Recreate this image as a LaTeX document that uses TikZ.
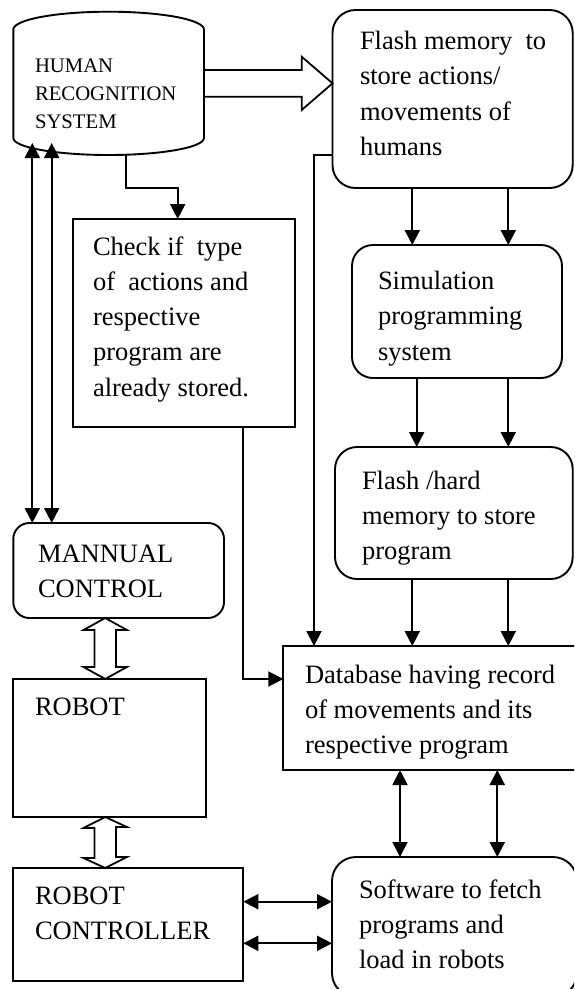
\documentclass[tikz,border=0pt]{standalone}
\usepackage{fontspec}
\setmainfont{Liberation Serif}
\usetikzlibrary{arrows.meta}
\begin{document}
\begin{tikzpicture}[x=1pt,y=-1pt, line width=1.9pt,
  box/.style={draw, inner sep=0pt, outer sep=0pt, anchor=north west},
  rbox/.style={box, rounded corners=#1},
  txt/.style={anchor=north west, inner sep=0pt, outer sep=0pt, align=left, font=\fontsize{26.5}{35.3}\selectfont},
  stxt/.style={txt, font=\fontsize{20.7}{28.3}\selectfont},
  arr/.style={-{Triangle[length=15pt,width=15pt]}},
  darr/.style={{Triangle[length=15pt,width=15pt]}-{Triangle[length=15pt,width=15pt]}},
  hollow/.style={draw, line width=1.8pt, line join=miter}]
\useasboundingbox (0,0) rectangle (574,989);
\clip (0,0) rectangle (574,989);

% ---------- boxes ----------
\node[rbox=23pt, minimum width=240.2pt, minimum height=178pt] (flash) at (332.5,10) {};
\node[rbox=21pt, minimum width=210pt, minimum height=133pt] (sim) at (352,245) {};
\node[rbox=22pt, minimum width=237.7pt, minimum height=132pt] (fhard) at (335,447) {};
\node[box, minimum width=300pt, minimum height=124pt] (db) at (283.3,646) {};
\node[rbox=24pt, minimum width=245pt, minimum height=140pt] (soft) at (332,857) {};
\node[box, minimum width=222pt, minimum height=208pt] (check) at (73,219) {};
\node[rbox=16pt, minimum width=210.7pt, minimum height=95pt] (manual) at (13.3,523) {};
\node[box, minimum width=192.7pt, minimum height=138pt] (robot) at (13.3,679) {};
\node[box, minimum width=230pt, minimum height=113pt] (ctrl) at (13.3,868) {};

% ---------- cylinder ----------
\draw (13.3,29.5) arc[start angle=180, end angle=0, x radius=95.35pt, y radius=17.8pt]
      -- (204,138) arc[start angle=0, end angle=-180, x radius=95.35pt, y radius=17pt] -- cycle;

% ---------- texts ----------
\node[stxt] (cylT) at (35,52.5) {\strut HUMAN\\RECOGNITION\\SYSTEM};
\node[txt] (flashT) at (360,24.8) {\strut Flash memory\ \ to\\store actions/\\movements of\\humans};
\node[txt] (checkT) at (93,230.3) {\strut Check if\ \ type\\of\ \ actions and\\respective\\program are\\already stored.};
\node[txt] (simT) at (378,264.8) {\strut Simulation\\programming\\system};
\node[txt] (fhardT) at (362,464.3) {\strut Flash /hard\\memory to store\\program};
\node[txt] (dbT) at (305,658.3) {\strut Database having record\\of movements and its\\respective program};
\node[txt] (softT) at (359,873.3) {\strut Software to fetch\\programs and\\load in robots};
\node[txt] (manT) at (38,537.3) {\strut MANNUAL\\CONTROL};
\node[txt] (robT) at (35,690.3) {\strut ROBOT};
\node[txt] (ctrlT) at (35,879.3) {\strut ROBOT\\CONTROLLER};

% ---------- helper coordinates ----------
\coordinate (cylB) at (126,155);
\coordinate (cylJ) at (177.7,188.3);
\coordinate (fl1) at (314,155);
\coordinate (cA) at (412.3,0);
\coordinate (cB) at (508.3,0);
\coordinate (cC) at (416.7,0);
\coordinate (c243) at (243.3,679);
\coordinate (cD) at (400,0);
\coordinate (cE) at (497.3,0);
\coordinate (r902) at (0,901.7);
\coordinate (r943) at (0,943.3);
\coordinate (cylL1) at (32.3,143);
\coordinate (cylL2) at (51.7,143);
\coordinate (hx) at (105.2,0);
\coordinate (ba) at (204,70);
\coordinate (btip) at (333,83.3);

% ---------- connectors ----------
\draw[arr] (cylB) |- (cylJ) -- (cylJ |- check.north);
\draw[arr] (flash.west |- fl1) -| (fl1 |- db.north);
\draw[arr] (flash.south -| cA) -- (sim.north -| cA);
\draw[arr] (flash.south -| cB) -- (sim.north -| cB);
\draw[arr] (sim.south -| cC) -- (fhard.north -| cC);
\draw[arr] (sim.south -| cB) -- (fhard.north -| cB);
\draw[arr] (fhard.south -| cA) -- (db.north -| cA);
\draw[arr] (fhard.south -| cB) -- (db.north -| cB);
\draw[arr] (check.south -| c243) |- (db.west |- c243);
\draw[darr] (db.south -| cD) -- (soft.north -| cD);
\draw[darr] (db.south -| cE) -- (soft.north -| cE);
\draw[darr] (ctrl.east |- r902) -- (soft.west |- r902);
\draw[darr] (ctrl.east |- r943) -- (soft.west |- r943);
\draw[darr] (cylL1) -- (cylL1 |- manual.north);
\draw[darr] (cylL2) -- (cylL2 |- manual.north);

% block arrow cylinder -> flash memory
\draw[hollow] (ba) -- ++(97.7,0) -- ++(0,-13.3) -- (flash.west |- btip)
      -- ++(-30.8,26.7) -- ++(0,-13.3) -- ++(-97.7,0);

% hollow double arrows
\draw[hollow] (manual.south -| hx) -- ++(21.7,12) -- ++(-10.9,0) -- ++(0,37) -- ++(10.9,0)
      -- (robot.north -| hx) -- ++(-21.7,-12) -- ++(10.9,0) -- ++(0,-37) -- ++(-10.9,0) -- cycle;
\draw[hollow] (robot.south -| hx) -- ++(21.7,10) -- ++(-10.9,0) -- ++(0,30) -- ++(10.9,0)
      -- (ctrl.north -| hx) -- ++(-21.7,-10) -- ++(10.9,0) -- ++(0,-30) -- ++(-10.9,0) -- cycle;
\end{tikzpicture}
\end{document}
